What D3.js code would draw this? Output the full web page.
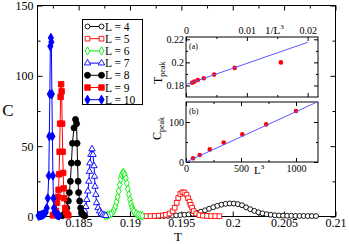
<!DOCTYPE html>
<html>
<head>
<meta charset="utf-8">
<script src="https://cdn.jsdelivr.net/npm/d3@7"></script>
<style>
  body { margin: 0; background: #fff; }
  text { font-family: "Liberation Serif", "Times New Roman", serif; fill: #000; }
</style>
</head>
<body>
<svg id="chart" width="349" height="244"></svg>
<script>
// specific heat C(T), one pair of arrays per lattice size
const tL4 = [0.1925,0.1929,0.1933,0.1937,0.1941,0.1945,0.1949,0.1953,0.1957,0.1961,0.1965,0.1969,0.1973,0.1977,0.1981,0.1985,0.1989,0.1993,0.1997,0.2001,0.2005,0.2009,0.2013,0.2017,0.2021,0.2025,0.2029,0.2033,0.2037,0.2041,0.2045,0.2049,0.2053,0.2057,0.2061,0.2065,0.2069,0.2073,0.2077,0.2081]
const cL4 = [0.3,0.3,0.4,0.5,0.6,0.8,1.0,1.2,1.5,2.0,2.6,3.4,4.4,5.5,6.6,7.6,8.4,9.0,9.3,9.2,8.8,8.0,6.5,5.2,4.0,3.0,2.2,1.6,1.2,0.9,0.7,0.6,0.5,0.5,0.4,0.4,0.4,0.3,0.3,0.3]

const tL5 = [0.1916,0.1920,0.1924,0.1928,0.1932,0.1935,0.19385,0.19415,0.19435,0.19455,0.1947,0.1949,0.1951,0.1953,0.1955,0.19565,0.1958,0.1959,0.19605,0.1962,0.19645,0.19675,0.1971,0.1975,0.1979,0.1983,0.1987]
const cL5 = [0.2,0.3,0.4,0.6,0.8,1.2,2.1,3.8,6.2,9.7,13.2,16,17.2,17,15.5,13,10.5,8.3,6.2,3.8,2.1,1.0,0.6,0.4,0.3,0.3,0.2]

const tL6 = [0.1876,0.1878,0.1880,0.1882,0.1884,0.1885,0.1886,0.1887,0.1888,0.1889,0.1890,0.1891,0.1892,0.1893,0.1894,0.1895,0.1896,0.1897,0.1898,0.1899,0.1900,0.1901,0.1902,0.1903,0.1904,0.1906,0.1908,0.1910,0.1912]
const cL6 = [0.5,0.8,1.2,2.2,4,5.5,7.5,10.5,14,18,22.5,26.5,29.5,31,31,29.5,27,23.5,19.5,15.5,12,9,6.5,4.8,3.5,2,1.2,0.8,0.5]

const tL7 = [0.1854,0.1855,0.1856,0.1857,0.1858,0.1859,0.1860,0.18605,0.1861,0.1862,0.1863,0.1864,0.1865,0.18655,0.1866,0.18667,0.18675,0.1869,0.18705,0.1872,0.18735,0.1875,0.18765]
const cL7 = [1.4,2.3,3.8,7,12,18,25,32,38,44,48,44,36,28.5,21.4,15.6,9.7,6.2,3.8,2.2,1.4,0.9,0.6]

const tL8 = [0.1834,0.18355,0.1837,0.18385,0.1840,0.1841,0.1842,0.1843,0.1844,0.18455,0.1847,0.1848,0.18485,0.1849,0.18495,0.1850,0.1851,0.1852,0.1853,0.18545,0.1856]
const cL8 = [0.5,1.2,2.6,6,11,17,25,38,52,63,69,66,52,38,25,17,11,6,2.6,1,0.5]

const tL9 = [0.1825,0.1826,0.1827,0.1828,0.1829,0.1830,0.18305,0.1831,0.18315,0.1832,0.18325,0.1833,0.18335,0.1834,0.18345,0.1835,0.18355,0.1836,0.1837,0.1838,0.1839,0.1840]
const cL9 = [0.8,1.2,2.0,4,9.7,14,19,30,46,66,85,94,89,66,46,31,20,13,6,3,1.5,0.8]

const tL10 = [0.1811,0.1812,0.1813,0.1814,0.1815,0.1816,0.1817,0.1818,0.1819,0.1820,0.1821,0.18215,0.1822,0.18225,0.1823,0.18235,0.1824,0.18245,0.1825,0.18255,0.1826,0.1827,0.1828,0.1829,0.1830,0.1831]
const cL10 = [0.5,0.6,0.8,1.0,1.2,1.6,2.2,3.0,6,13,29,57,87,121,127,124,87,57,29,13,6,3,1.8,1.2,0.8,0.6]

const legendNames = ["L = 4","L = 5","L = 6","L = 7","L = 8","L = 9","L = 10"]

// main axis ticks
const xMajor = [0.185,0.19,0.195,0.2,0.205,0.21]
const xMinor = [0.1825,0.1875,0.1925,0.1975,0.2025,0.2075]
const yMajor = [0,50,100,150]
const yMinor = [25,75,125]

// inset (a): peak temperature vs 1/L^3
const invL3 = [0.0156,0.0080,0.00463,0.00292,0.00195,0.00137,0.0010]
const Tpeak = [0.2000,0.1952,0.1894,0.1863,0.1847,0.1833,0.1823]
const fitAx = [0,0.02]
const fitAy = [0.1808,0.2174]
const aXMajor = [0,0.01,0.02], aXMinor = [0.005,0.015]
const aYMajor = [0.18,0.2,0.22], aYMinor = [0.19,0.21]

// inset (b): peak height vs L^3
const L3 = [64,125,216,343,512,729,1000]
const Cpeak = [9.2,17.5,31.5,48.5,69,94,127.5]
const fitBx = [0,1200]
const fitBy = [0,151]
const bXMajor = [0,500,1000], bXMinor = [250,750]
const bYMajor = [0,100], bYMinor = [50]

const svg = d3.select("#chart")
const fmt = d3.format("~g")

// draws one set of inward ticks, labels optional
function ticks(g, axis, vals, len, labels, fs, pad) {
  g.call(axis.tickValues(vals).tickSize(-len).tickSizeOuter(0).tickPadding(pad || 3)
    .tickFormat(labels ? fmt : ""))
  g.select(".domain").remove()
  g.selectAll("line").attr("stroke", "#000")
  g.selectAll("text").style("font-size", fs + "px").style("font-family", null)
  g.attr("font-family", null)
}

function frameAxes(x, y, o) {
  const [x0, x1] = x.range(), [y0, y1] = y.range()
  const b = svg.append("g").attr("transform", `translate(0,${y0})`)
  ticks(b, d3.axisBottom(x), o.xMajor, o.maj, o.bottomLabels, o.fs, o.padB)
  ticks(svg.append("g").attr("transform", `translate(0,${y0})`), d3.axisBottom(x), o.xMinor, o.min, false)
  const t = svg.append("g").attr("transform", `translate(0,${y1})`)
  ticks(t, d3.axisTop(x), o.xMajor, o.maj, o.topLabels, o.fs, o.padT)
  ticks(svg.append("g").attr("transform", `translate(0,${y1})`), d3.axisTop(x), o.xMinor, o.min, false)
  ticks(svg.append("g").attr("transform", `translate(${x0},0)`), d3.axisLeft(y), o.yMajor, o.maj, true, o.fs, o.padL)
  ticks(svg.append("g").attr("transform", `translate(${x0},0)`), d3.axisLeft(y), o.yMinor, o.min, false)
  ticks(svg.append("g").attr("transform", `translate(${x1},0)`), d3.axisRight(y), o.yMajor, o.maj, false)
  ticks(svg.append("g").attr("transform", `translate(${x1},0)`), d3.axisRight(y), o.yMinor, o.min, false)
  svg.append("rect").attr("x", x0).attr("y", y1).attr("width", x1 - x0).attr("height", y0 - y1)
    .attr("fill", "none").attr("stroke", "#000").attr("stroke-width", 1)
}

/* ---------------- main plot ---------------- */
const x = d3.scaleLinear().domain([0.181, 0.21]).range([37.5, 335.5])
const y = d3.scaleLinear().domain([0, 150]).range([216.5, 5.5])

frameAxes(x, y, {xMajor, xMinor, yMajor, yMinor, maj: 5, min: 3, bottomLabels: true, topLabels: false, fs: 12, padB: 2, padL: 4})

const series = [
  {t: tL4, c: cL4, color: "#000", sym: d3.symbolCircle, size: 19, filled: false},
  {t: tL5, c: cL5, color: "#ff0000", sym: d3.symbolSquare, size: 22, filled: false},
  {t: tL6, c: cL6, color: "#00ee00", sym: d3.symbolDiamond, size: 20, filled: false},
  {t: tL7, c: cL7, color: "#0000ff", sym: d3.symbolTriangle, size: 18, filled: false},
  {t: tL8, c: cL8, color: "#000", sym: d3.symbolCircle, size: 28, filled: true},
  {t: tL9, c: cL9, color: "#ff0000", sym: d3.symbolSquare, size: 30, filled: true},
  {t: tL10, c: cL10, color: "#0000ff", sym: d3.symbolDiamond, size: 24, filled: true}
]

const plot = svg.append("g")
series.forEach(s => {
  const pts = s.t.map((t, i) => [x(t), y(s.c[i])])
  plot.append("path").attr("d", d3.line()(pts))
    .attr("fill", "none").attr("stroke", s.color).attr("stroke-width", 1)
  plot.append("g").selectAll("path").data(pts).join("path")
    .attr("transform", d => `translate(${d[0]},${d[1]})`)
    .attr("d", d3.symbol(s.sym, s.size))
    .attr("fill", s.filled ? s.color : "#fff")
    .attr("stroke", s.color).attr("stroke-width", 0.9)
})

// axis titles
svg.append("text").attr("x", 8).attr("y", 116).attr("text-anchor", "middle")
  .style("font-size", "17px").text("C")
svg.append("text").attr("x", 178).attr("y", 241.2).attr("text-anchor", "middle")
  .style("font-size", "13px").text("T")

// legend
const lg = svg.append("g")
lg.append("rect").attr("x", 82.5).attr("y", 19.5).attr("width", 60).attr("height", 85)
  .attr("fill", "#fff").attr("stroke", "#000")
series.forEach((s, i) => {
  const ly = 26.5 + i * 12.2
  lg.append("line").attr("x1", 87.5).attr("x2", 101.5).attr("y1", ly).attr("y2", ly)
    .attr("stroke", s.color)
  ;[87.5, 101.5].forEach(lx => {
    lg.append("path").attr("transform", `translate(${lx},${ly})`)
      .attr("d", d3.symbol(s.sym, s.size))
      .attr("fill", s.filled ? s.color : "#fff")
      .attr("stroke", s.color).attr("stroke-width", 0.9)
  })
  lg.append("text").attr("x", 105).attr("y", ly).attr("dy", "0.35em")
    .style("font-size", "11.5px").text(legendNames[i])
})

/* ---------------- inset (a) ---------------- */
const xa = d3.scaleLinear().domain([0, 0.0217]).range([186, 318])
const ya = d3.scaleLinear().domain([0.17, 0.222]).range([97, 37])
svg.append("rect").attr("x", 186).attr("y", 37).attr("width", 132).attr("height", 60).attr("fill", "#fff")
frameAxes(xa, ya, {xMajor: aXMajor, xMinor: aXMinor, yMajor: aYMajor, yMinor: aYMinor, maj: 4, min: 2,
  bottomLabels: false, topLabels: true, fs: 10, padT: 3, padL: 2})

svg.append("g").selectAll("circle").data(invL3).join("circle")
  .attr("cx", d => xa(d)).attr("cy", (d, i) => ya(Tpeak[i])).attr("r", 2.3).attr("fill", "#ff0000")
svg.append("path").attr("d", d3.line()(fitAx.map((v, i) => [xa(v), ya(fitAy[i])])))
  .attr("stroke", "#5a5aff").attr("stroke-width", 1).attr("fill", "none")

const la = svg.append("text").attr("x", 265).attr("y", 34).style("font-size", "11px")
la.append("tspan").text("1/L")
la.append("tspan").attr("dy", -5).style("font-size", "7px").text("3")
svg.append("text").attr("x", 189).attr("y", 49).style("font-size", "8px").text("(a)")
const ta = svg.append("text").attr("transform", "translate(162,84) rotate(-90)").style("font-size", "12px")
ta.append("tspan").text("T")
ta.append("tspan").attr("dy", 3).style("font-size", "8px").text("peak")

/* ---------------- inset (b) ---------------- */
const xb = d3.scaleLinear().domain([0, 1200]).range([186, 318])
const yb = d3.scaleLinear().domain([0, 150]).range([162, 102])
svg.append("rect").attr("x", 186).attr("y", 102).attr("width", 132).attr("height", 60).attr("fill", "#fff")
frameAxes(xb, yb, {xMajor: bXMajor, xMinor: bXMinor, yMajor: bYMajor, yMinor: bYMinor, maj: 4, min: 2,
  bottomLabels: true, topLabels: false, fs: 10, padB: 3, padL: 2})

svg.append("g").selectAll("circle").data(L3).join("circle")
  .attr("cx", d => xb(d)).attr("cy", (d, i) => yb(Cpeak[i])).attr("r", 2.3).attr("fill", "#ff0000")
svg.append("path").attr("d", d3.line()(fitBx.map((v, i) => [xb(v), yb(fitBy[i])])))
  .attr("stroke", "#5a5aff").attr("stroke-width", 1).attr("fill", "none")

const lb = svg.append("text").attr("x", 254).attr("y", 174).style("font-size", "11px")
lb.append("tspan").text("L")
lb.append("tspan").attr("dy", -5).style("font-size", "7px").text("3")
svg.append("text").attr("x", 189).attr("y", 114).style("font-size", "8px").text("(b)")
const tb = svg.append("text").attr("transform", "translate(161,140) rotate(-90)").style("font-size", "12px")
tb.append("tspan").text("C")
tb.append("tspan").attr("dy", 3).style("font-size", "8px").text("peak")
</script>
</body>
</html>
